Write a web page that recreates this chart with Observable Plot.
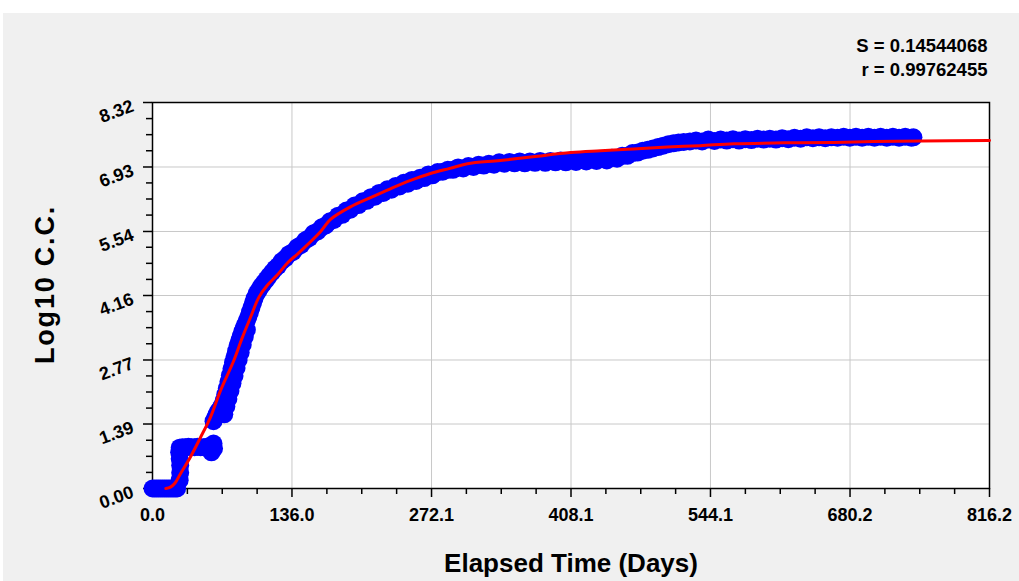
<!DOCTYPE html>
<html>
<head>
<meta charset="utf-8">
<script src="https://cdn.jsdelivr.net/npm/d3@7"></script>
<script src="https://cdn.jsdelivr.net/npm/@observablehq/plot@0.6"></script>
<style>
  html, body { margin: 0; padding: 0; background: #ffffff; }
  #chart { position: absolute; left: 3px; top: 13px; width: 1016px; height: 568px; background: #f0f0f0; }
  #chart svg { background: transparent; }
</style>
</head>
<body>
<div id="chart"></div>
<script>
// ---- Data ----
const xTicks = [0, 136.0, 272.1, 408.1, 544.1, 680.2, 816.2];
const xTickLabels = ["0.0", "136.0", "272.1", "408.1", "544.1", "680.2", "816.2"];
const yTicks = [0, 1.39, 2.77, 4.16, 5.54, 6.93, 8.32];
const yTickLabels = ["0.00", "1.39", "2.77", "4.16", "5.54", "6.93", "8.32"];

const xTitle = "Elapsed Time (Days)";
const yTitle = "Log10 C.C.";
const statS = "S = 0.14544068";
const statR = "r = 0.99762455";

// Observed points (elapsed days, log10 C.C.)
const obsDay = [
  0, 2, 4, 6, 8, 10, 12, 14, 16, 18, 20, 22, 24,
  26.5, 27, 27, 26.5, 26, 26.5,
  29, 32, 35, 38, 41, 44, 47, 50, 53, 56, 59.5, 57.5, 60,
  59.5, 61, 62.5, 64, 66, 68, 69.5, 71, 72.5, 74, 75.5, 77, 78.5, 80, 81.5, 83, 84.5, 86, 87.5, 89,
  90.5, 92, 93.5, 95, 96.5, 98, 99.5, 101.5, 103.5, 106, 108.5, 111, 113.5, 116.5, 119.5, 122.5,
  70, 72, 74, 76, 78, 80, 82, 84, 86, 88, 90, 92,
  126, 129.5, 133, 137, 141, 145, 149, 153, 157, 161, 165, 169, 173, 177, 181, 185, 189, 193,
  197, 201, 205, 209, 213, 217, 221, 225, 229, 233, 237, 241, 245, 249, 253, 257, 261, 265,
  269, 273, 278, 283, 288, 293, 298, 303, 308, 313, 318, 323, 328, 333, 338, 343, 348, 353,
  358, 363, 368, 373, 378, 383, 388, 393, 398, 403, 408, 413, 418, 423, 428, 433, 438, 443,
  448, 453, 458, 463, 468, 473, 478, 483, 488, 493, 498, 503, 508, 513, 518, 524, 530, 536,
  542, 548, 554, 560, 566, 572, 578, 584, 590, 596, 602, 608, 614, 620, 626, 632, 638, 644,
  650, 656, 662, 668, 674, 680, 686, 692, 698, 704, 710, 716, 722, 728, 734, 740, 742
];
const obsLog = [
  0, 0, 0, 0, 0, 0, 0, 0, 0, 0, 0, 0, 0,
  0.18, 0.34, 0.5, 0.64, 0.78, 0.88,
  0.89, 0.89, 0.9, 0.89, 0.89, 0.9, 0.89, 0.89, 0.9, 0.89, 0.97, 0.78, 0.86,
  1.45, 1.52, 1.6, 1.66, 1.72, 1.8, 1.9, 2.03, 2.16, 2.3, 2.44, 2.58, 2.72, 2.84, 2.96, 3.08, 3.18, 3.28, 3.38, 3.46,
  3.54, 3.62, 3.7, 3.8, 3.9, 4.0, 4.1, 4.2, 4.27, 4.36, 4.43, 4.5, 4.58, 4.66, 4.74, 4.8,
  1.6, 1.77, 1.93, 2.1, 2.27, 2.43, 2.6, 2.77, 2.93, 3.1, 3.27, 3.42,
  4.9, 4.96, 5.05, 5.1, 5.2, 5.25, 5.35, 5.4, 5.5, 5.54, 5.63, 5.67, 5.76, 5.79, 5.88, 5.9, 5.99, 6.01,
  6.1, 6.11, 6.19, 6.2, 6.28, 6.29, 6.37, 6.37, 6.45, 6.44, 6.52, 6.51, 6.59, 6.57, 6.65, 6.63, 6.7, 6.69,
  6.77, 6.75, 6.82, 6.83, 6.87, 6.87, 6.92, 6.9, 6.95, 6.93, 6.98, 6.96, 7.0, 6.98, 7.03, 7.0, 7.04, 7.01,
  7.05, 7.01, 7.05, 7.02, 7.06, 7.02, 7.06, 7.03, 7.07, 7.03, 7.07, 7.04, 7.08, 7.05, 7.09, 7.06, 7.1, 7.07,
  7.13, 7.11, 7.17, 7.17, 7.23, 7.24, 7.28, 7.3, 7.33, 7.36, 7.39, 7.42, 7.44, 7.46, 7.47, 7.48, 7.5, 7.48,
  7.52, 7.49, 7.52, 7.5, 7.53, 7.5, 7.53, 7.51, 7.54, 7.52, 7.54, 7.52, 7.55, 7.53, 7.56, 7.54, 7.57, 7.55,
  7.57, 7.55, 7.57, 7.56, 7.58, 7.56, 7.58, 7.56, 7.58, 7.56, 7.58, 7.56, 7.58, 7.56, 7.58, 7.56, 7.57
];

// Fitted curve (red), read at selected days
const fitDay = [13, 17.5, 22, 27.3, 37, 46.8, 56.6, 66.3, 79.3, 87, 95.6, 103.7, 112, 121.6, 132, 142.7, 164,
  173.6, 193, 212.6, 232, 251.6, 271, 290, 307, 339, 371, 408, 437, 469, 502, 534, 567, 616, 664, 703, 750, 816.2];
const fitLog = [0, 0.03, 0.12, 0.32, 0.68, 1.1, 1.54, 2.11, 2.76, 3.22, 3.69, 4.12, 4.38, 4.6, 4.87, 5.08, 5.54,
  5.8, 6.07, 6.27, 6.46, 6.64, 6.79, 6.9, 7.0, 7.07, 7.15, 7.24, 7.28, 7.32, 7.36, 7.39, 7.43, 7.45, 7.46, 7.48, 7.49, 7.5];

const obs = obsDay.map((d, i) => ({day: d, v: obsLog[i]}));
const fit = fitDay.map((d, i) => ({day: d, v: fitLog[i]}));

const xMinor = d3.range(0, 25).map(i => i * 816.2 / 24).filter((_, i) => i % 4 !== 0);
const yMinor = d3.range(0, 25).map(i => i * 8.32 / 24).filter((_, i) => i % 4 !== 0);

const FONT = "'Liberation Sans', Arial, Helvetica, sans-serif";

const chart = Plot.plot({
  width: 1016,
  height: 568,
  marginLeft: 149,
  marginRight: 30,
  marginTop: 89,
  marginBottom: 93,
  style: {background: "transparent", fontFamily: FONT},
  x: {domain: [0, 816.2]},
  y: {domain: [0, 8.32]},
  marks: [
    Plot.frame({fill: "#ffffff", stroke: null}),
    Plot.gridX(xTicks.slice(1, -1), {stroke: "#c8c8c8", strokeOpacity: 1, strokeWidth: 1}),
    Plot.gridY(yTicks.slice(1, -1), {stroke: "#c8c8c8", strokeOpacity: 1, strokeWidth: 1}),
    Plot.frame({stroke: "#000000", strokeWidth: 1.5}),
    Plot.axisX({ticks: xTicks, tickSize: 9, tickFormat: () => "", label: null, stroke: "#000", strokeWidth: 1.5}),
    Plot.axisX({ticks: xMinor, tickSize: 6, tickFormat: () => "", label: null, stroke: "#000", strokeWidth: 1.5}),
    Plot.axisY({ticks: yTicks, tickSize: 9, tickFormat: () => "", label: null, stroke: "#000", strokeWidth: 1.5}),
    Plot.axisY({ticks: yMinor, tickSize: 6, tickFormat: () => "", label: null, stroke: "#000", strokeWidth: 1.5}),
    Plot.text(xTicks, {x: d => d, text: (d, i) => xTickLabels[i], frameAnchor: "bottom", dy: 27,
      lineAnchor: "middle", fontSize: 18, fontWeight: "bold", fill: "#000"}),
    Plot.text(yTicks, {y: d => d, text: (d, i) => yTickLabels[i], frameAnchor: "left", dx: -36, dy: 9,
      textAnchor: "middle", lineAnchor: "middle", rotate: -20, fontSize: 18, fontWeight: "bold", fill: "#000"}),
    Plot.dot(obs, {x: "day", y: "v", r: 9, fill: "#0000ff", stroke: null}),
    Plot.line(fit, {x: "day", y: "v", stroke: "#ff0000", strokeWidth: 3, curve: "catmull-rom"}),
    Plot.text([xTitle], {text: d => d, frameAnchor: "bottom", dy: 75, lineAnchor: "middle",
      fontSize: 26, fontWeight: "bold", fill: "#000"}),
    Plot.text([yTitle], {text: d => d, frameAnchor: "left", dx: -107, dy: -11, rotate: -90, textAnchor: "middle",
      lineAnchor: "middle", fontSize: 27, fontWeight: "bold", fill: "#000"}),
    Plot.text([statS], {text: d => d, frameAnchor: "top-right", dx: -2, dy: -56, textAnchor: "end",
      lineAnchor: "middle", fontSize: 18.5, fontWeight: "bold", fill: "#000"}),
    Plot.text([statR], {text: d => d, frameAnchor: "top-right", dx: -2, dy: -32, textAnchor: "end",
      lineAnchor: "middle", fontSize: 18.5, fontWeight: "bold", fill: "#000"})
  ]
});
d3.select(chart).selectAll("text").filter(function () { return this.textContent === yTitle; })
  .style("letter-spacing", "1.8px");
document.getElementById("chart").appendChild(chart);
</script>
</body>
</html>
